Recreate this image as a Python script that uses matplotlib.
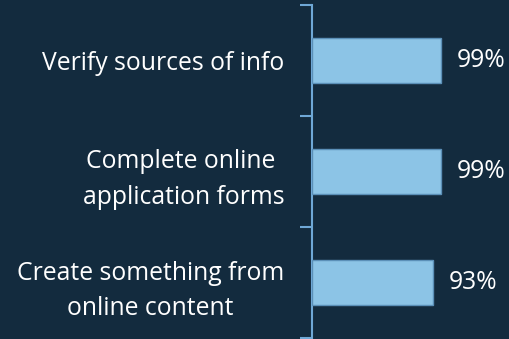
import matplotlib
matplotlib.use("Agg")
import matplotlib.pyplot as plt

categories = ["Verify sources of info", "Complete online \napplication forms", "Create something from\nonline content"]
values = [99, 99, 93]
value_labels = ["99%", "99%", "93%"]

BG = "#132B3E"
BAR = "#8CC4E6"
EDGE = "#5B90B8"
SPINE = "#6FA8D6"
TXT = "#FFFFFF"

plt.rcParams['font.family'] = ['Open Sans', 'DejaVu Sans']

fig = plt.figure(figsize=(5.10, 3.39), dpi=100, facecolor=BG)
ax = fig.add_axes([312/510, 1 - 338/339, (510-312)/510, (338-5)/339])
ax.set_facecolor(BG)

n = len(categories)
ypos = list(range(n))
ax.barh(ypos, values, height=0.4, color=BAR, edgecolor=EDGE, linewidth=1.0, zorder=3)
ax.set_ylim(n - 0.5, -0.5)
ax.set_xlim(0, 152.5)

for y, v, lab in zip(ypos, values, value_labels):
    ax.annotate(lab, (v, y), xytext=(11.5, 0), textcoords='offset points',
                va='center', ha='left', color=TXT, fontsize=17.8)

ax.set_yticks(ypos)
ax.set_yticklabels(categories, fontsize=17.8, color=TXT, ha='right',
                   multialignment='center', linespacing=1.55)
ax.tick_params(axis='y', which='major', length=0, pad=20)
ax.set_yticks([-0.5, 0.5, 1.5, 2.5], minor=True)
ax.tick_params(axis='y', which='minor', length=9, width=1.5, color=SPINE, direction='out')
ax.set_xticks([])

for s in ['top', 'right', 'bottom']:
    ax.spines[s].set_visible(False)
ax.spines['left'].set_color(SPINE)
ax.spines['left'].set_linewidth(1.5)

fig.savefig("out.png", dpi=100, facecolor=BG)
